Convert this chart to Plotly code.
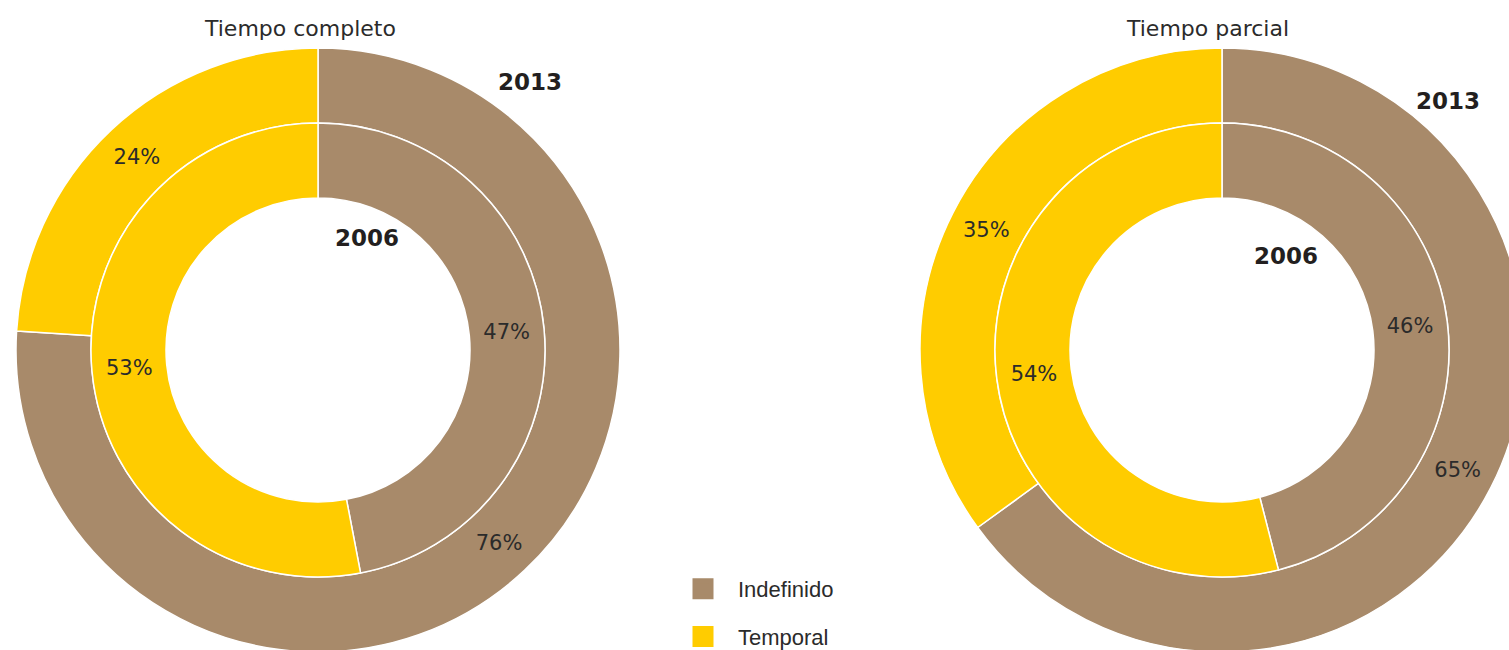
import plotly.graph_objects as go

# ---- data ----
labels = ["Indefinido", "Temporal"]
colors = ["#A88A6A", "#FFCC00"]
titles = ["Tiempo completo", "Tiempo parcial"]
completo_2006 = [47, 53]
completo_2013 = [76, 24]
parcial_2006 = [46, 54]
parcial_2013 = [65, 35]
years = ["2006", "2013"]

# ---- layout helpers (pixel -> paper) ----
W, H = 1540, 665
def fx(p):
    return p / W
def fy(p):
    return 1 - p / H

R_OUT, R_MID, R_HOLE = 302, 227, 152
CY = 350
centers = [318, 1222]

def dom(cx, r):
    return dict(x=[fx(cx - r), fx(cx + r)], y=[fy(CY + r), fy(CY - r)])

fig = go.Figure()
series = [(completo_2006, completo_2013), (parcial_2006, parcial_2013)]
for cx, (v06, v13) in zip(centers, series):
    for vals, r, hole in [(v13, R_OUT, R_MID / R_OUT), (v06, R_MID, R_HOLE / R_MID)]:
        fig.add_trace(go.Pie(
            labels=labels, values=vals, domain=dom(cx, r), hole=hole,
            sort=False, direction="clockwise", rotation=0,
            marker=dict(colors=colors, line=dict(color="white", width=1.5)),
            texttemplate="%{value}%", textposition="inside",
            insidetextorientation="horizontal",
            textfont=dict(family="DejaVu Sans", size=21, color="#2b2b2b"),
            showlegend=False, hoverinfo="label+value",
        ))

# legend entries
for lab, col in zip(labels, colors):
    fig.add_trace(go.Scatter(
        x=[None], y=[None], mode="markers", name=lab, legendgroup=lab,
        marker=dict(symbol="square", size=16, color=col, line=dict(color=col, width=5)),
    ))

annots = [
    dict(x=fx(300), y=fy(28), text=titles[0]),
    dict(x=fx(1207), y=fy(28), text=titles[1]),
]
for a in annots:
    a.update(xref="paper", yref="paper", showarrow=False, xanchor="center", yanchor="middle",
             font=dict(family="DejaVu Sans", size=22, color="#2b2b2b"))
year_pos = [(367, 238, years[0]), (530, 82, years[1]), (1286, 256, years[0]), (1448, 101, years[1])]
for x, y, t in year_pos:
    annots.append(dict(x=fx(x), y=fy(y), text="<b>" + t + "</b>", xref="paper", yref="paper",
                       showarrow=False, xanchor="center", yanchor="middle",
                       font=dict(family="DejaVu Sans", size=23, color="#231f20")))

fig.update_layout(
    width=W, height=H, autosize=False,
    margin=dict(l=0, r=0, t=0, b=0),
    paper_bgcolor="white", plot_bgcolor="white",
    xaxis=dict(visible=False), yaxis=dict(visible=False),
    annotations=annots,
    legend=dict(x=fx(668), y=fy(568), xanchor="left", yanchor="top",
                itemwidth=60,
                font=dict(family="Liberation Sans", size=22, color="#2b2b2b"),
                tracegroupgap=16, bgcolor="rgba(0,0,0,0)"),
)

fig.write_html("out.html", config={"displayModeBar": False},
               post_script="document.body.style.margin='0';document.body.style.overflow='hidden';")
